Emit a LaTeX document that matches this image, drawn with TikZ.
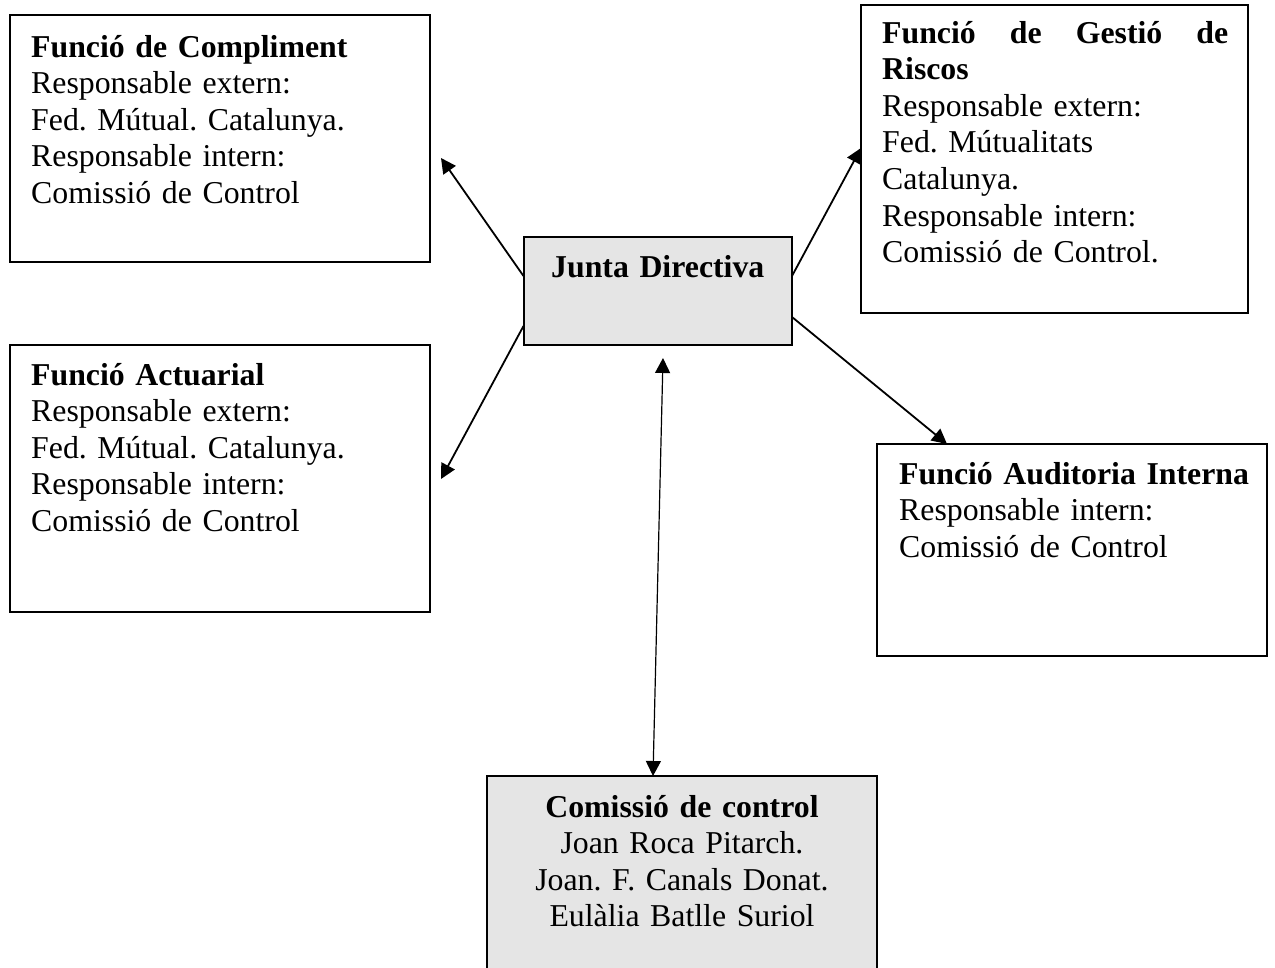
\documentclass[tikz,border=0pt]{standalone}
\usepackage{fontspec}
\setmainfont{Liberation Serif}
\usetikzlibrary{arrows.meta}
\frenchspacing
\begin{document}
\begin{tikzpicture}[x=1pt,y=-1pt,
  box/.style={draw=black,line width=2pt,inner sep=0pt,outer sep=0pt},
  graybox/.style={box,fill=black!10},
  txt/.style={anchor=base west,inner sep=0pt,align=left,text width=#1,
    font=\fontsize{31.8pt}{36.6pt}\selectfont\frenchspacing},
  ctxt/.style={anchor=base,inner sep=0pt,align=center,text width=#1,
    font=\fontsize{31.8pt}{36.6pt}\selectfont\frenchspacing},
  conn/.style={line width=1.8pt,-{Triangle[length=15pt,width=15pt]}},
  dconn/.style={line width=1.2pt,{Triangle[length=15pt,width=15pt]}-{Triangle[length=15pt,width=15pt]}}]
\useasboundingbox[fill=white] (0,0) rectangle (1275,967);

% boxes
\node[box,minimum width=420pt,minimum height=247pt] (comp) at (220,138.5) {};
\node[box,minimum width=387pt,minimum height=308pt] (risc) at (1054.5,159) {};
\node[graybox,minimum width=268.5pt,minimum height=108pt] (junta) at (657.75,291) {};
\node[box,minimum width=420pt,minimum height=267pt] (act) at (220,478.5) {};
\node[box,minimum width=390pt,minimum height=212pt] (aud) at (1072,550) {};
\node[graybox,minimum width=390pt,minimum height=230pt] (com) at (682,891) {};

% texts
\node[txt=390pt] (compT) at (31,57) {\textbf{Funció de Compliment}\\Responsable extern:\\Fed. Mútual. Catalunya.\\Responsable intern:\\Comissió de Control};
\node[txt=346pt] (riscT) at (882,43) {\textbf{Funció\hfill de\hfill Gestió\hfill de}\\\textbf{Riscos}\\Responsable extern:\\Fed. Mútualitats\\Catalunya.\\Responsable intern:\\Comissió de Control.};
\node[ctxt=260pt] (juntaT) at ([yshift=14pt]junta.center) {\textbf{Junta Directiva}};
\node[txt=390pt] (actT) at (31,385) {\textbf{Funció Actuarial}\\Responsable extern:\\Fed. Mútual. Catalunya.\\Responsable intern:\\Comissió de Control};
\node[txt=366pt] (audT) at (899,484) {\textbf{Funció Auditoria Interna}\\Responsable intern:\\Comissió de Control};
\node[ctxt=380pt] (comT) at (682,817) {\textbf{Comissió de control}\\Joan Roca Pitarch.\\Joan. F. Canals Donat.\\Eulàlia Batlle Suriol};

% free ends
\coordinate (compEnd) at (441,158);
\coordinate (actEnd) at (441,479);
\coordinate (riscEnd) at (861,148);
\coordinate (audEnd) at (947,444);
\coordinate (jTop) at (663,358);

% connectors
\draw[conn] ([yshift=15pt]junta.west) -- (compEnd);
\draw[conn] ([yshift=-35pt]junta.west) -- (actEnd);
\draw[conn] ([yshift=15pt]junta.east) -- (riscEnd);
\draw[conn] ([yshift=-26pt]junta.east) -- (audEnd);
\draw[dconn] (jTop) -- ([xshift=-29pt]com.north);
\end{tikzpicture}
\end{document}
